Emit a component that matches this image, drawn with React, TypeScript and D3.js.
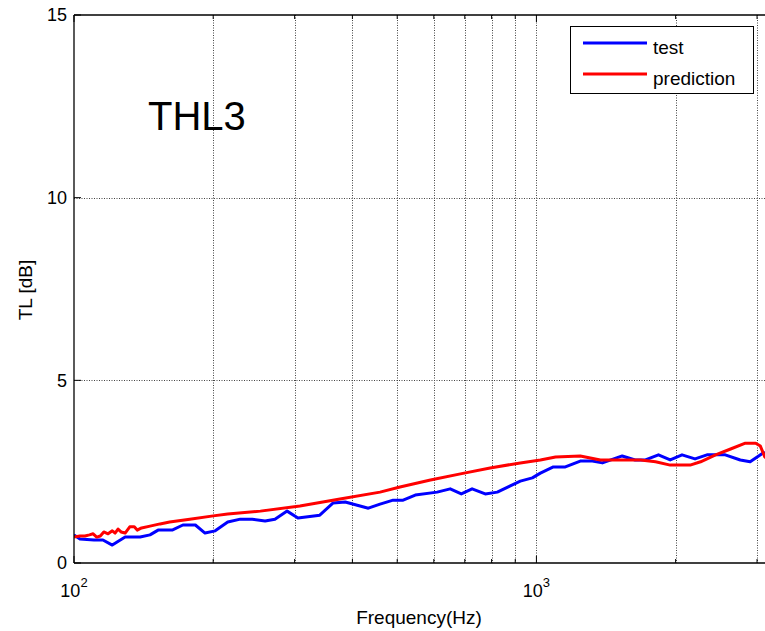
import React, { useEffect, useRef } from "react";
import * as d3 from "d3";

// Transmission loss, measured vs. predicted
const testFreq = [100, 103, 110.5, 115.5, 121, 129, 139, 146, 152, 163, 172, 183, 192, 202, 215, 229, 243, 259, 272, 289, 305, 340, 363, 386, 433, 459, 490, 515, 547, 610, 651, 688, 726, 775, 823, 878, 923, 980, 1020, 1088, 1155, 1244, 1321, 1389, 1533, 1635, 1721, 1836, 1947, 2065, 2203, 2338, 2561, 2760, 2899, 3080, 3200];
const testTL = [0.77, 0.66, 0.63, 0.63, 0.49, 0.71, 0.71, 0.77, 0.9, 0.9, 1.04, 1.04, 0.82, 0.88, 1.12, 1.2, 1.2, 1.15, 1.2, 1.42, 1.23, 1.31, 1.64, 1.67, 1.5, 1.61, 1.72, 1.72, 1.86, 1.94, 2.03, 1.89, 2.03, 1.89, 1.94, 2.11, 2.24, 2.33, 2.46, 2.63, 2.63, 2.79, 2.79, 2.74, 2.93, 2.82, 2.82, 2.96, 2.82, 2.96, 2.85, 2.96, 2.96, 2.82, 2.77, 3.0, 3.05];

const predFreq = [100, 103, 105.6, 108, 110, 112, 114, 116, 118.5, 121, 122.7, 124.5, 126.4, 129, 132, 135, 137, 140, 146, 153.5, 161, 178, 200, 215, 253, 308, 376, 459, 507, 590, 685, 794, 923, 1020, 1100, 1244, 1375, 1520, 1680, 1810, 1947, 2150, 2265, 2440, 2630, 2830, 2980, 3050, 3120, 3200];
const predTL = [0.71, 0.74, 0.74, 0.77, 0.8, 0.71, 0.74, 0.85, 0.8, 0.88, 0.82, 0.93, 0.85, 0.82, 0.99, 0.99, 0.9, 0.96, 1.01, 1.07, 1.12, 1.2, 1.29, 1.34, 1.42, 1.56, 1.75, 1.94, 2.08, 2.27, 2.44, 2.6, 2.74, 2.82, 2.9, 2.93, 2.82, 2.82, 2.82, 2.77, 2.68, 2.68, 2.77, 2.96, 3.12, 3.28, 3.28, 3.2, 2.9, 2.8];

const yTicks = [0, 5, 10, 15];
const xMajor = [100, 1000];
const xMinor = [200, 300, 400, 500, 600, 700, 800, 900, 2000, 3000];
const seriesNames = ["test", "prediction"];
const seriesColors = ["#0000ff", "#ff0000"];

const W = 765, H = 631;
const L = 74, R = 770, T = 15, B = 563;
const FONT = "'Liberation Sans', Arial, Helvetica, sans-serif";

export default function App() {
  const ref = useRef<SVGSVGElement>(null);

  useEffect(() => {
    const svg = d3.select(ref.current);
    svg.selectAll("*").remove();

    const x = d3.scaleLog().domain([100, 3200]).range([L, R]);
    const y = d3.scaleLinear().domain([0, 15]).range([B, T]);

    svg.append("rect").attr("width", W).attr("height", H).attr("fill", "#fff");

    svg.append("defs").append("clipPath").attr("id", "plotclip")
      .append("rect").attr("x", L).attr("y", T).attr("width", R - L).attr("height", B - T);

    // dotted grid
    const grid = svg.append("g").attr("stroke", "#444").attr("stroke-width", 1).attr("stroke-dasharray", "1,1.5");
    [...xMinor, 1000].forEach(f => {
      grid.append("line").attr("x1", Math.round(x(f)) + 0.5).attr("x2", Math.round(x(f)) + 0.5).attr("y1", T).attr("y2", B);
    });
    yTicks.filter(v => v > 0 && v < 15).forEach(v => {
      grid.append("line").attr("x1", L).attr("x2", R).attr("y1", Math.round(y(v)) + 0.5).attr("y2", Math.round(y(v)) + 0.5);
    });

    // data lines
    const plot = svg.append("g").attr("clip-path", "url(#plotclip)");
    const line = d3.line<[number, number]>().x(d => x(d[0])).y(d => y(d[1]));
    const testPts = testFreq.map((f, i) => [f, testTL[i]] as [number, number]);
    const predPts = predFreq.map((f, i) => [f, predTL[i]] as [number, number]);
    plot.append("path").attr("d", line(testPts)).attr("fill", "none").attr("stroke", seriesColors[0]).attr("stroke-width", 3).attr("stroke-linejoin", "round");
    plot.append("path").attr("d", line(predPts)).attr("fill", "none").attr("stroke", seriesColors[1]).attr("stroke-width", 3).attr("stroke-linejoin", "round");

    // axes frame
    const ax = svg.append("g").attr("stroke", "#000").attr("stroke-width", 1.3);
    ax.append("line").attr("x1", L).attr("x2", L).attr("y1", T).attr("y2", B);
    ax.append("line").attr("x1", L).attr("x2", R).attr("y1", B).attr("y2", B);
    ax.append("line").attr("x1", L).attr("x2", R).attr("y1", T).attr("y2", T);

    // ticks
    const tk = svg.append("g").attr("stroke", "#000").attr("stroke-width", 1);
    yTicks.forEach(v => {
      tk.append("line").attr("x1", L).attr("x2", L + 7).attr("y1", y(v)).attr("y2", y(v));
    });
    xMajor.forEach(f => {
      tk.append("line").attr("x1", x(f)).attr("x2", x(f)).attr("y1", B).attr("y2", B - 7);
      tk.append("line").attr("x1", x(f)).attr("x2", x(f)).attr("y1", T).attr("y2", T + 7);
    });
    xMinor.forEach(f => {
      tk.append("line").attr("x1", x(f)).attr("x2", x(f)).attr("y1", B).attr("y2", B - 4);
      tk.append("line").attr("x1", x(f)).attr("x2", x(f)).attr("y1", T).attr("y2", T + 4);
    });

    // tick labels
    const txt = svg.append("g").attr("font-family", FONT).attr("fill", "#000");
    yTicks.forEach(v => {
      txt.append("text").attr("x", L - 7).attr("y", y(v)).attr("dy", "0.36em")
        .attr("text-anchor", "end").attr("font-size", 18).text(String(v));
    });
    xMajor.forEach(f => {
      const e = Math.round(Math.log10(f));
      const t = txt.append("text").attr("x", x(f)).attr("y", 597).attr("text-anchor", "middle").attr("font-size", 18);
      t.append("tspan").text("10");
      t.append("tspan").attr("font-size", 13).attr("dy", -10).text(String(e));
    });

    // axis labels
    txt.append("text").attr("x", 419).attr("y", 624).attr("text-anchor", "middle").attr("font-size", 19).text("Frequency(Hz)");
    txt.append("text").attr("transform", "translate(32,290) rotate(-90)").attr("text-anchor", "middle").attr("font-size", 19).text("TL [dB]");

    // annotation
    txt.append("text").attr("x", 148).attr("y", 130).attr("font-size", 40).text("THL3");

    // legend
    const lg = svg.append("g");
    lg.append("rect").attr("x", 570.5).attr("y", 26.5).attr("width", 183).attr("height", 67).attr("fill", "#fff").attr("stroke", "#000").attr("stroke-width", 1);
    seriesNames.forEach((name, i) => {
      const ly = 43 + i * 31;
      lg.append("line").attr("x1", 583).attr("x2", 647).attr("y1", ly).attr("y2", ly).attr("stroke", seriesColors[i]).attr("stroke-width", 3);
      lg.append("text").attr("x", 653).attr("y", ly + 11).attr("font-family", FONT).attr("font-size", 19).text(name);
    });
  }, []);

  return (
    <svg ref={ref} width={W} height={H} style={{ position: "absolute", left: 0, top: 0, display: "block" }} />
  );
}
